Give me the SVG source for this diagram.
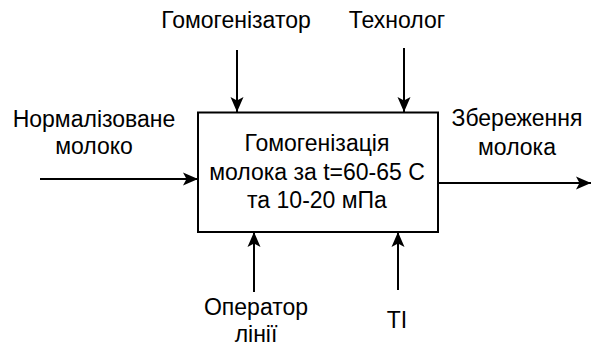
<svg xmlns="http://www.w3.org/2000/svg" width="592" height="347" viewBox="0 0 592 347">
<defs>
<marker id="ah" markerWidth="18" markerHeight="18" refX="16" refY="8" orient="auto" markerUnits="userSpaceOnUse">
<path d="M1,1.5 L16,8 L1,14.5 L4.5,8 Z" fill="#000"/>
</marker>
<style>
text{font-family:"Liberation Sans",Arial,sans-serif;font-size:23px;fill:#000;text-anchor:middle}
.c{stroke:#000;stroke-width:2;fill:none}
</style>
</defs>
<rect width="592" height="347" fill="#fff"/>
<g id="connectors">
<line class="c" x1="237" y1="50" x2="237" y2="112" marker-end="url(#ah)"/>
<line class="c" x1="404" y1="48" x2="404" y2="112" marker-end="url(#ah)"/>
<line class="c" x1="40" y1="179" x2="198" y2="179" marker-end="url(#ah)"/>
<line class="c" x1="438" y1="183" x2="591" y2="183" marker-end="url(#ah)"/>
<line class="c" x1="254" y1="292" x2="254" y2="232" marker-end="url(#ah)"/>
<line class="c" x1="398" y1="290" x2="398" y2="232" marker-end="url(#ah)"/>
</g>
<g id="process">
<rect x="198" y="112.5" width="240" height="119.5" fill="#fff" stroke="#000" stroke-width="2"/>
<text x="317" y="151">Гомогенізація</text>
<text x="317" y="180">молока за t=60-65 С</text>
<text x="317" y="208">та 10-20 мПа</text>
</g>
<g id="control1"><text x="236" y="28">Гомогенізатор</text></g>
<g id="control2"><text x="397" y="28">Технолог</text></g>
<g id="input"><text x="94" y="127">Нормалізоване</text><text x="94" y="154">молоко</text></g>
<g id="output"><text x="517" y="126">Збереження</text><text x="517" y="155">молока</text></g>
<g id="mech1"><text x="256" y="315">Оператор</text><text x="256" y="342">лінії</text></g>
<g id="mech2"><text x="397" y="328">ТІ</text></g>
</svg>
